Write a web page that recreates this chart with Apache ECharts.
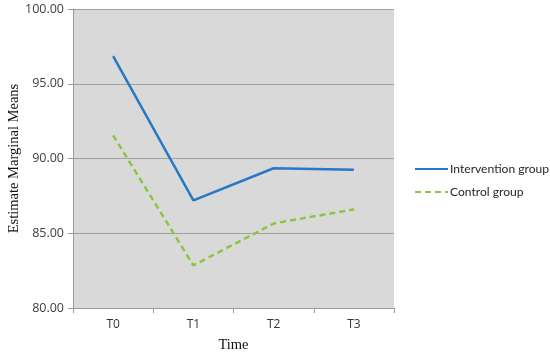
<!DOCTYPE html>
<html><head><meta charset="utf-8">
<script src="https://cdn.jsdelivr.net/npm/echarts@6/dist/echarts.min.js"></script>
<style>html,body{margin:0;padding:0;background:#fff}#c{width:550px;height:354px}</style>
</head><body><div id="c"></div>
<script>
const categories = ['T0', 'T1', 'T2', 'T3'];
const intervention = [96.85, 87.2, 89.35, 89.25];
const control = [91.55, 82.85, 85.65, 86.6];
const seriesNames = ['Intervention group', 'Control group'];

const chart = echarts.init(document.getElementById('c'), null, {renderer: 'canvas'});
chart.setOption({
  animation: false,
  backgroundColor: '#ffffff',
  grid: {left: 73, right: 156, top: 9, bottom: 46, show: true, backgroundColor: '#d9d9d9', borderWidth: 0,
    containLabel: false, outerBoundsMode: 'none'},
  legend: {
    orient: 'vertical', left: 414, top: 163, padding: 0, itemWidth: 33, itemHeight: 10, itemGap: 11,
    itemStyle: {color: 'transparent', borderWidth: 0, opacity: 0},
    textStyle: {fontFamily: 'Lato, sans-serif', fontSize: 12.1, color: '#262626', padding: [0,0,0,-3]},
    data: seriesNames
  },
  xAxis: {
    type: 'category', data: categories, boundaryGap: true,
    name: 'Time', nameLocation: 'middle', nameGap: 30, nameMoveOverlap: false,
    nameTextStyle: {fontFamily: 'Liberation Serif, Times New Roman, serif', fontSize: 14.5, color: '#111'},
    axisLine: {lineStyle: {color: '#9a9a9a', width: 1}},
    axisTick: {show: true, length: 5, lineStyle: {color: '#9a9a9a'}},
    axisLabel: {fontFamily: 'Open Sans, Liberation Sans, sans-serif', fontSize: 12, color: '#333', margin: 11}
  },
  yAxis: {
    type: 'value', min: 80, max: 100, interval: 5,
    name: 'Estimate Marginal Means', nameLocation: 'middle', nameGap: 51, nameMoveOverlap: false,
    nameTextStyle: {fontFamily: 'Liberation Serif, Times New Roman, serif', fontSize: 14.5, color: '#111'},
    axisLine: {show: true, lineStyle: {color: '#9a9a9a', width: 1}},
    axisTick: {show: true, length: 5, lineStyle: {color: '#9a9a9a'}},
    splitLine: {show: true, lineStyle: {color: '#a0a0a0', width: 1}},
    axisLabel: {fontFamily: 'Open Sans, Liberation Sans, sans-serif', fontSize: 12.5, color: '#404040', margin: 9,
      formatter: v => v.toFixed(2)}
  },
  series: [
    {name: seriesNames[0], type: 'line', data: intervention, symbol: 'none', color: '#2878c6',
     lineStyle: {color: '#2878c6', width: 2.5}},
    {name: seriesNames[1], type: 'line', data: control, symbol: 'none', color: '#8cc540',
     lineStyle: {color: '#8cc540', width: 2.5, type: [6, 4]}}
  ]
});
</script></body></html>
